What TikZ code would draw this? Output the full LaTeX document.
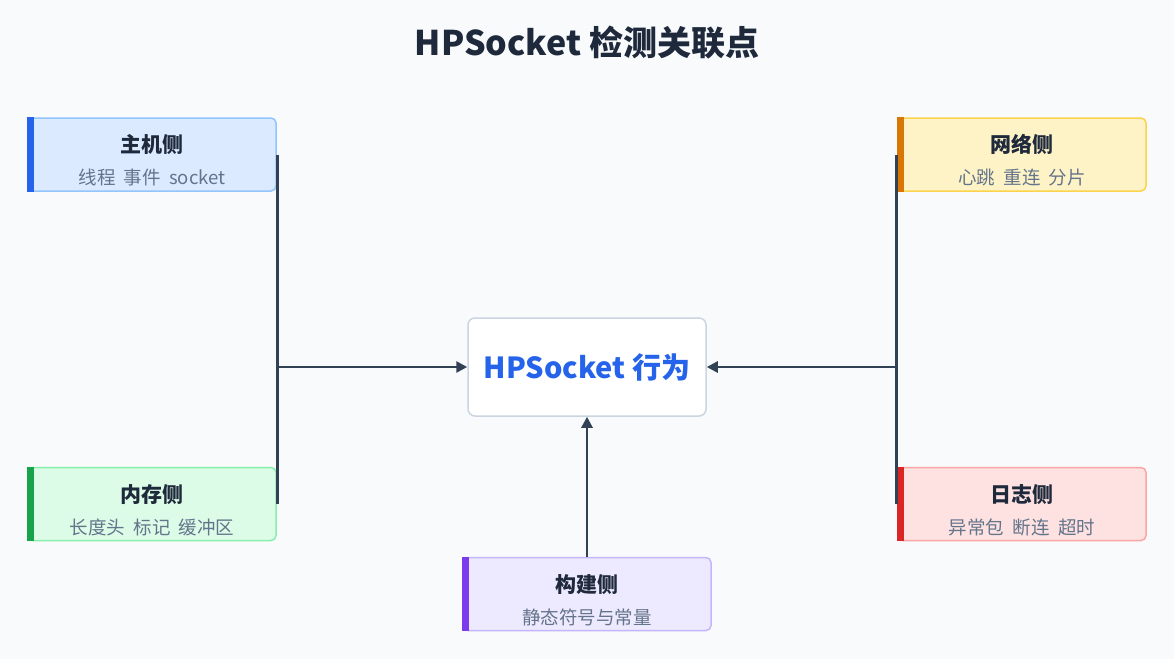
\documentclass[tikz,border=0pt]{standalone}
\usepackage{fontspec}
\setmainfont{Noto Sans CJK SC}
\usetikzlibrary{arrows.meta}
\definecolor{bg}{HTML}{F8FAFC}
\definecolor{ink}{HTML}{1E293B}
\definecolor{sub}{HTML}{64748B}
\definecolor{wire}{HTML}{334155}
\definecolor{corebd}{HTML}{CBD5E1}
\definecolor{corefg}{HTML}{2563EB}
\definecolor{hostbg}{HTML}{DBEAFE}\definecolor{hostbd}{HTML}{93C5FD}\definecolor{hostbar}{HTML}{2563EB}
\definecolor{membg}{HTML}{DCFCE7}\definecolor{membd}{HTML}{86EFAC}\definecolor{membar}{HTML}{16A34A}
\definecolor{netbg}{HTML}{FEF3C7}\definecolor{netbd}{HTML}{FCD34D}\definecolor{netbar}{HTML}{D97706}
\definecolor{logbg}{HTML}{FEE2E2}\definecolor{logbd}{HTML}{FCA5A5}\definecolor{logbar}{HTML}{DC2626}
\definecolor{buildbg}{HTML}{EDE9FE}\definecolor{buildbd}{HTML}{C4B5FD}\definecolor{buildbar}{HTML}{7C3AED}
\newcommand{\boxtext}[2]{\rule{0pt}{30pt}{\fontsize{21}{24}\selectfont\bfseries\color{ink}#1}\\[13pt]{\fontsize{18.5}{22}\selectfont\color{sub}#2}}
\tikzset{
  side/.style 2 args={draw=#2, fill=#1, line width=1.5pt, rounded corners=5pt,
    minimum width=248pt, minimum height=73pt, align=center, inner sep=0pt},
  wire/.style={draw=wire, line width=2.6pt},
  feed/.style={wire, -{Triangle[length=11pt,width=11pt]}}
}
\begin{document}
\begin{tikzpicture}[x=1pt,y=1pt,yscale=-1]
\useasboundingbox[fill=bg] (0,0) rectangle (1174,659);

% title
\node (title) at (587,43) {\fontsize{34}{40}\selectfont\bfseries\color{ink}HPSocket 检测关联点};

% centre
\node[draw=corebd, fill=white, line width=1.5pt, rounded corners=7pt,
  minimum width=238pt, minimum height=98pt] (core) at (587,367)
  {\fontsize{29}{34}\selectfont\bfseries\color{corefg}HPSocket 行为};

% side boxes
\node[side={hostbg}{hostbd}] (host) at (152,154.5) {\boxtext{主机侧}{线程~~事件~~socket}};
\node[side={membg}{membd}] (mem) at (152,504) {\boxtext{内存侧}{长度头~~标记~~缓冲区}};
\node[side={netbg}{netbd}] (net) at (1022,154.5) {\boxtext{网络侧}{心跳~~重连~~分片}};
\node[side={logbg}{logbd}] (log) at (1022,504) {\boxtext{日志侧}{异常包~~断连~~超时}};
\node[side={buildbg}{buildbd}] (build) at (587,594) {\boxtext{构建侧}{静态符号与常量}};

% colour bars
\fill[hostbar] (host.north west) rectangle ([xshift=7pt]host.south west);
\fill[membar] (mem.north west) rectangle ([xshift=7pt]mem.south west);
\fill[netbar] (net.north west) rectangle ([xshift=7pt]net.south west);
\fill[logbar] (log.north west) rectangle ([xshift=7pt]log.south west);
\fill[buildbar] (build.north west) rectangle ([xshift=7pt]build.south west);

% connectors
\draw[wire] ([xshift=1pt]host.east) -- ([xshift=1pt]mem.east);
\draw[feed] ([xshift=1pt]host.east |- core.west) -- (core.west);
\draw[wire] ([xshift=-1pt]net.west) -- ([xshift=-1pt]log.west);
\draw[feed] ([xshift=-1pt]net.west |- core.east) -- (core.east);
\draw[feed] (build.north) -- (core.south);
\end{tikzpicture}
\end{document}
